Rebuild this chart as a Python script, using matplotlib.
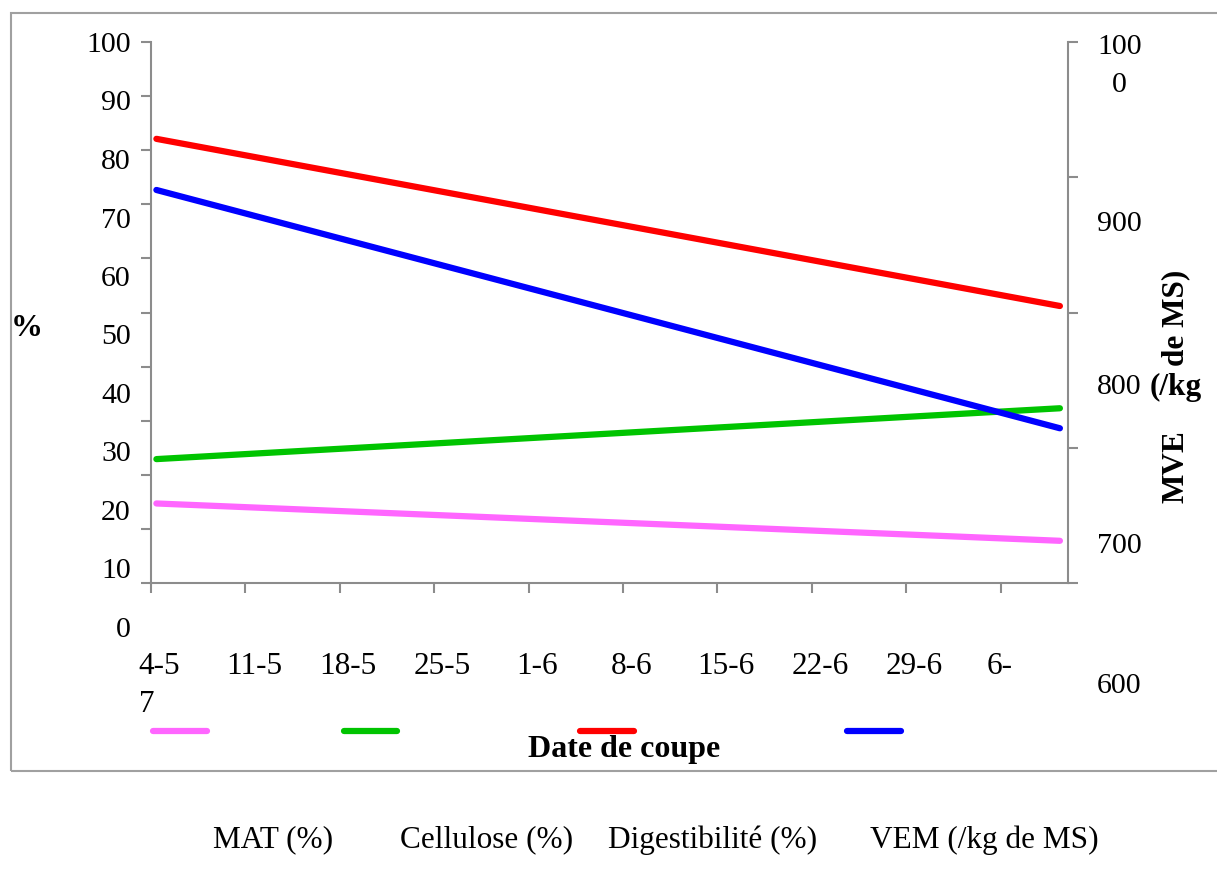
import matplotlib
matplotlib.use("Agg")
import matplotlib.pyplot as plt
from matplotlib.lines import Line2D
from matplotlib.patches import Rectangle

plt.rcParams['font.family'] = ['Liberation Serif', 'DejaVu Serif']

# days after 4 May (cutting date), straight trend lines
days = [0.4, 67.4]
mat = [14.7, 7.8]            # MAT (%)
cellulose = [22.9, 32.3]     # Cellulose (%)
digest = [82.1, 51.2]        # Digestibilité (%)
vem = [890.6, 714.4]         # VEM (/kg de MS), right axis

date_labels = ["4-5", "11-5", "18-5", "25-5", "1-6", "8-6", "15-6", "22-6", "29-6", "6-"]
left_labels = ["100", "90", "80", "70", "60", "50", "40", "30", "20", "10", "0"]
right_labels = ["100\n0", "900", "800", "700", "600"]
series_names = ["MAT (%)", "Cellulose (%)", "Digestibilité (%)", "VEM (/kg de MS)"]
colors = ["#ff66ff", "#00c400", "#ff0000", "#0000ff"]

W, H = 1217, 882
fig = plt.figure(figsize=(W / 100, H / 100), dpi=100)
ax = fig.add_axes([151 / W, 1 - 583 / H, (1068 - 151) / W, (583 - 42) / H])
ax2 = ax.twinx()

gray = "#8c8c8c"
ax.set_xlim(0, 68)
ax.set_ylim(0, 100)
ax2.set_ylim(600, 1000)
ax.set_xticks(range(0, 68, 7))
ax.set_yticks(range(0, 101, 10))
ax2.set_yticks(range(600, 1001, 100))
for a in (ax, ax2):
    a.tick_params(colors=gray, length=7, width=1.5, labelleft=False,
                  labelright=False, labelbottom=False)
    for s in a.spines.values():
        s.set_color(gray)
        s.set_linewidth(1.5)
    a.spines['top'].set_visible(False)
ax.spines['right'].set_visible(False)
ax2.spines['left'].set_visible(False)
ax2.spines['bottom'].set_visible(False)

lw = 4.5
ax.plot(days, mat, color=colors[0], lw=lw, solid_capstyle='round')
ax.plot(days, cellulose, color=colors[1], lw=lw, solid_capstyle='round')
ax.plot(days, digest, color=colors[2], lw=lw, solid_capstyle='round')
ax2.plot(days, vem, color=colors[3], lw=lw, solid_capstyle='round')

fs = 21.5


def ftext(x, y, s, **kw):
    fig.text(x / W, 1 - y / H, s, **kw)


# left tick labels (shifted as in the source picture)
for i, lab in enumerate(left_labels):
    ftext(131, 45 + i * 58.5, lab, ha='right', va='center', fontsize=fs)

# right tick labels
right_y = [66, 224, 387, 546, 686]
for lab, y in zip(right_labels, right_y):
    ftext(1097, y, lab, ha='left', va='center', fontsize=fs,
          multialignment='center', linespacing=1.55)
ftext(1150, 387, "(/kg", ha='left', va='center', fontsize=22.5, fontweight='bold')
ftext(1176, 318, "de MS)", ha='center', va='center', fontsize=22.5,
      fontweight='bold', rotation=90)
ftext(1176, 467, "MVE", ha='center', va='center', fontsize=22.5,
      fontweight='bold', rotation=90)

# x tick labels
fig.canvas.draw()
for i, lab in enumerate(date_labels):
    xp = ax.transData.transform((i * 7, 0))[0]
    off = 8.5 if lab != "6-" else -1
    fig.text((xp + off) / W, 1 - 667 / H, lab, ha='center', va='center', fontsize=22.5)
ftext(147, 705, "7", ha='center', va='center', fontsize=22.5)

ftext(27, 328, "%", ha='center', va='center', fontsize=23, fontweight='bold')
ftext(624, 750, "Date de coupe", ha='center', va='center', fontsize=23, fontweight='bold')

# legend swatches and names
swatch_x = [(153, 207), (344, 397), (580, 634), (847, 901)]
for (x0, x1), c in zip(swatch_x, colors):
    fig.add_artist(Line2D([x0 / W, x1 / W], [1 - 731 / H] * 2, color=c, lw=lw,
                          solid_capstyle='round', transform=fig.transFigure))
name_x = [213, 400, 608, 870]
for x, name in zip(name_x, series_names):
    ftext(x, 840, name, ha='left', va='center', fontsize=22.5)

fig.add_artist(Rectangle((11 / W, 1 - 771 / H), (W + 10 - 11) / W, (771 - 13) / H,
                         fill=False, edgecolor="#a0a0a0", lw=1.5,
                         transform=fig.transFigure))

fig.savefig("out.png", dpi=100)
